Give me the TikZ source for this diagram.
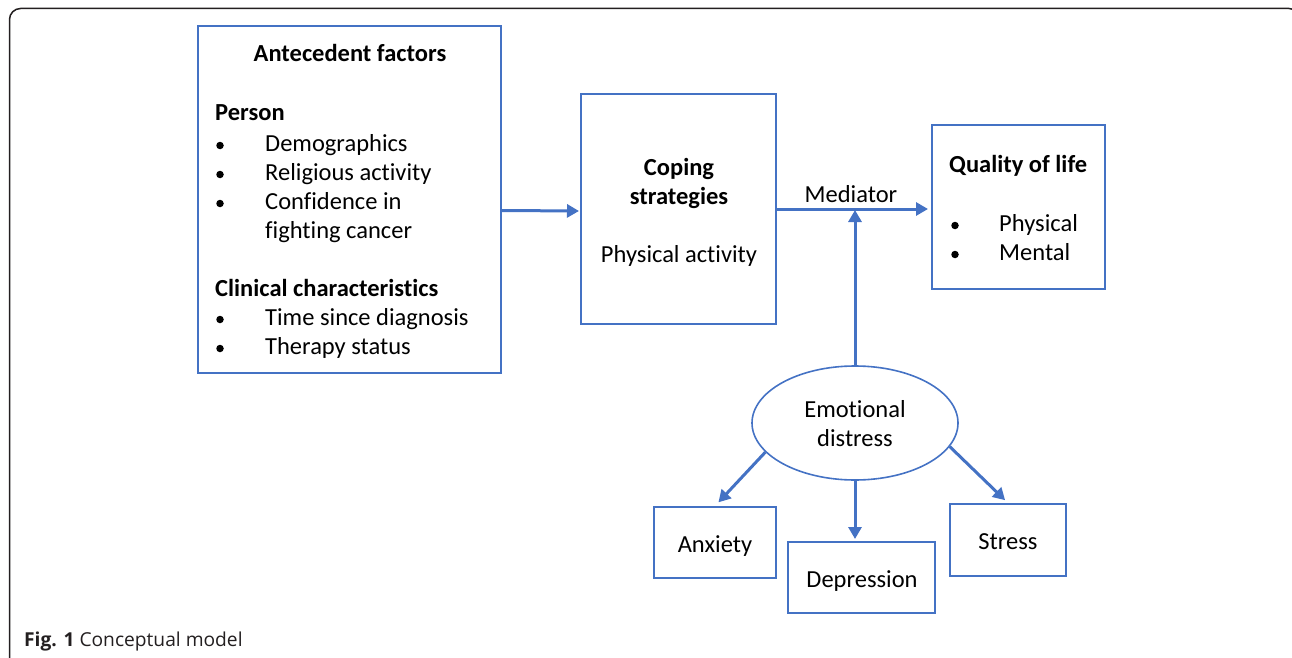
\documentclass[tikz,border=0pt]{standalone}
\usepackage{fontspec}
\setmainfont[Ligatures=NoCommon]{Carlito}
\newfontfamily\capfont[Ligatures=NoCommon]{Open Sans}
\usetikzlibrary{arrows.meta,shapes.geometric,calc}
\definecolor{bl}{HTML}{4472C4}
\definecolor{frame}{HTML}{231F20}
\tikzset{
  box/.style={draw=bl, line width=2pt, inner sep=0pt},
  oval/.style={draw=bl, line width=1.6pt, ellipse, inner sep=0pt, minimum width=206pt, minimum height=114pt},
  txt/.style={inner sep=0pt, anchor=base west, font=\fontsize{24.5}{29}\selectfont},
  ctxt/.style={inner sep=0pt, anchor=base, font=\fontsize{24.5}{29}\selectfont},
  bul/.style={circle, fill=black, inner sep=0pt, minimum size=7.5pt},
  arr/.style={draw=bl, line width=3pt, -{Triangle[length=12pt,width=13pt]}},
}
\begin{document}
\begin{tikzpicture}[x=1pt,y=-1pt]
\useasboundingbox (0,0) rectangle (1292,658);
\draw[frame, line width=1.5pt, rounded corners=11pt] (9.5,680) -- (9.5,8.5) -- (1300,8.5) -- (1300,680);
% boxes
\node[box, minimum width=303pt, minimum height=347pt] (ante) at (349.5,199.5) {};
\node[box, minimum width=195pt, minimum height=230pt] (cope) at (678.5,209) {};
\node[box, minimum width=173pt, minimum height=164pt] (qol) at (1018.5,207) {};
\node[oval] (emo) at (855,423) {};
\node[box, minimum width=122pt, minimum height=71pt] (anx) at (715,542.5) {};
\node[box, minimum width=147pt, minimum height=71pt] (dep) at (861.5,577.5) {};
\node[box, minimum width=116pt, minimum height=72pt] (str) at (1008,540) {};
% antecedent text
\node[ctxt, font=\fontsize{24.5}{29}\selectfont\bfseries] (t1) at (350,62) {Antecedent factors};
\node[txt, font=\fontsize{24.5}{29}\selectfont\bfseries] (t2) at (215,121) {Person};
\node[bul] (b1) at (220,145.5) {};
\node[txt] (t3) at (265,151) {Demographics};
\node[bul] (b2) at (220,174.5) {};
\node[txt] (t4) at (265,180) {Religious activity};
\node[bul] (b3) at (220,203.5) {};
\node[txt] (t5) at (265,209) {Confidence in};
\node[txt] (t6) at (265,238) {fighting cancer};
\node[txt, font=\fontsize{24.5}{29}\selectfont\bfseries] (t7) at (215,296) {Clinical characteristics};
\node[bul] (b4) at (220,319.5) {};
\node[txt] (t8) at (265,325) {Time since diagnosis};
\node[bul] (b5) at (220,348.5) {};
\node[txt] (t9) at (265,354) {Therapy status};
% coping text
\node[ctxt, font=\fontsize{24.5}{29}\selectfont\bfseries] (c1) at (679,175) {Coping};
\node[ctxt, font=\fontsize{24.5}{29}\selectfont\bfseries] (c2) at (679,204) {strategies};
\node[ctxt] (c3) at (679,262) {Physical activity};
% qol text
\node[txt, font=\fontsize{24.5}{29}\selectfont\bfseries] (q1) at (949,172) {Quality of life};
\node[bul] (qb1) at (955,225.5) {};
\node[txt] (q2) at (999,231) {Physical};
\node[bul] (qb2) at (955,254.5) {};
\node[txt] (q3) at (999,260) {Mental};
% ellipse text
\node[ctxt] (e1) at (855,417) {Emotional};
\node[ctxt] (e2) at (855,446) {distress};
% small boxes text
\node[ctxt] (a1) at (715,552) {Anxiety};
\node[ctxt] (d1) at (862,587) {Depression};
\node[ctxt] (s1) at (1008,549) {Stress};
% mediator
\node[ctxt] (med) at (851,202) {Mediator};
% arrows
\draw[arr] ($(ante.east)+(0,11)$) -- ($(cope.west)+(-1,2)$);
\draw[arr] (cope.east) -- ($(cope.east -| qol.west)+(-3,0)$);
\draw[arr] (emo.north) -- ($(emo.north |- cope.east)+(0,1)$);
\draw[arr, shorten >=5pt] (emo.198) -- (anx.north);
\draw[arr] (emo.south) -- ($(emo.south |- dep.north)+(0,-2)$);
\draw[arr, shorten >=4pt] (emo.346) -- (str.north);
% caption
\node[inner sep=0pt, anchor=base west, font=\capfont\fontsize{19.2}{23}\selectfont, text=frame] (cap) at (24,646) {\textbf{Fig. 1} Conceptual model};
\end{tikzpicture}
\end{document}
